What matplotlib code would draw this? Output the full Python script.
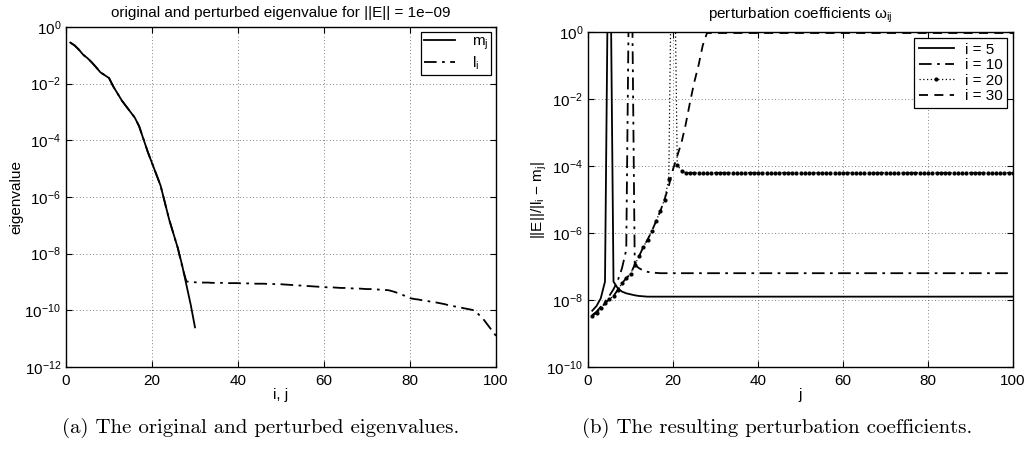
import numpy as np
import matplotlib
matplotlib.use("Agg")
import matplotlib.pyplot as plt
from matplotlib.ticker import LogLocator, LogFormatterMathtext, NullLocator

plt.rcParams['font.family'] = ['Liberation Sans', 'DejaVu Sans']
plt.rcParams['mathtext.default'] = 'regular'

# ---------------- data (log10 values) ----------------
j_m = list(range(1, 31))
m_log10 = [-0.55, -0.65, -0.80, -0.98, -1.10, -1.25, -1.42, -1.60, -1.70, -1.80,
           -2.10, -2.35, -2.60, -2.80, -3.00, -3.20, -3.50, -3.95, -4.40, -4.80,
           -5.20, -5.60, -6.20, -6.80, -7.30, -7.80, -8.40, -9.10, -9.80, -10.60]

i_l = list(range(1, 101))
l_log10 = [-0.55, -0.65, -0.80, -0.98, -1.10, -1.25, -1.42, -1.60, -1.70, -1.80,
           -2.10, -2.35, -2.60, -2.80, -3.00, -3.20, -3.50, -3.95, -4.40, -4.80,
           -5.20, -5.60, -6.20, -6.80, -7.30, -7.80, -8.45, -8.98, -9.00, -9.01,
           -9.02, -9.02, -9.02, -9.03, -9.03, -9.03, -9.03, -9.04, -9.04, -9.04,
           -9.05, -9.05, -9.05, -9.06, -9.06, -9.06, -9.07, -9.07, -9.08, -9.08,
           -9.09, -9.10, -9.11, -9.12, -9.13, -9.14, -9.15, -9.16, -9.17, -9.18,
           -9.19, -9.19, -9.20, -9.21, -9.21, -9.22, -9.23, -9.23, -9.24, -9.25,
           -9.25, -9.26, -9.27, -9.28, -9.29, -9.33, -9.38, -9.44, -9.50, -9.57,
           -9.60, -9.62, -9.65, -9.67, -9.70, -9.72, -9.75, -9.78, -9.82, -9.85,
           -9.88, -9.91, -9.94, -9.97, -10.00, -10.15, -10.30, -10.50, -10.70, -10.90]

j_w = list(range(1, 101))
w5_log10 = [-8.32, -8.18, -7.95, -7.45, 6.00, -7.45, -7.65, -7.75, -7.80, -7.83,
            -7.86, -7.88, -7.89, -7.90, -7.90, -7.90, -7.90, -7.90, -7.90, -7.90,
            -7.90, -7.90, -7.90, -7.90, -7.90, -7.90, -7.90, -7.90, -7.90, -7.90,
            -7.90, -7.90, -7.90, -7.90, -7.90, -7.90, -7.90, -7.90, -7.90, -7.90,
            -7.90, -7.90, -7.90, -7.90, -7.90, -7.90, -7.90, -7.90, -7.90, -7.90,
            -7.90, -7.90, -7.90, -7.90, -7.90, -7.90, -7.90, -7.90, -7.90, -7.90,
            -7.90, -7.90, -7.90, -7.90, -7.90, -7.90, -7.90, -7.90, -7.90, -7.90,
            -7.90, -7.90, -7.90, -7.90, -7.90, -7.90, -7.90, -7.90, -7.90, -7.90,
            -7.90, -7.90, -7.90, -7.90, -7.90, -7.90, -7.90, -7.90, -7.90, -7.90,
            -7.90, -7.90, -7.90, -7.90, -7.90, -7.90, -7.90, -7.90, -7.90, -7.90]
w10_log10 = [-8.45, -8.35, -8.20, -8.05, -7.88, -7.68, -7.42, -7.05, -6.50, 6.00,
             -6.95, -7.05, -7.12, -7.16, -7.18, -7.19, -7.20, -7.20, -7.20, -7.20,
             -7.20, -7.20, -7.20, -7.20, -7.20, -7.20, -7.20, -7.20, -7.20, -7.20,
             -7.20, -7.20, -7.20, -7.20, -7.20, -7.20, -7.20, -7.20, -7.20, -7.20,
             -7.20, -7.20, -7.20, -7.20, -7.20, -7.20, -7.20, -7.20, -7.20, -7.20,
             -7.20, -7.20, -7.20, -7.20, -7.20, -7.20, -7.20, -7.20, -7.20, -7.20,
             -7.20, -7.20, -7.20, -7.20, -7.20, -7.20, -7.20, -7.20, -7.20, -7.20,
             -7.20, -7.20, -7.20, -7.20, -7.20, -7.20, -7.20, -7.20, -7.20, -7.20,
             -7.20, -7.20, -7.20, -7.20, -7.20, -7.20, -7.20, -7.20, -7.20, -7.20,
             -7.20, -7.20, -7.20, -7.20, -7.20, -7.20, -7.20, -7.20, -7.20, -7.20]
w20_log10 = [-8.48, -8.38, -8.25, -8.10, -7.98, -7.88, -7.70, -7.50, -7.35, -7.22,
             -6.95, -6.70, -6.42, -6.20, -5.95, -5.65, -5.35, -5.00, -4.40, 6.00,
             -3.97, -4.14, -4.20, -4.20, -4.20, -4.20, -4.20, -4.20, -4.20, -4.20,
             -4.20, -4.20, -4.20, -4.20, -4.20, -4.20, -4.20, -4.20, -4.20, -4.20,
             -4.20, -4.20, -4.20, -4.20, -4.20, -4.20, -4.20, -4.20, -4.20, -4.20,
             -4.20, -4.20, -4.20, -4.20, -4.20, -4.20, -4.20, -4.20, -4.20, -4.20,
             -4.20, -4.20, -4.20, -4.20, -4.20, -4.20, -4.20, -4.20, -4.20, -4.20,
             -4.20, -4.20, -4.20, -4.20, -4.20, -4.20, -4.20, -4.20, -4.20, -4.20,
             -4.20, -4.20, -4.20, -4.20, -4.20, -4.20, -4.20, -4.20, -4.20, -4.20,
             -4.20, -4.20, -4.20, -4.20, -4.20, -4.20, -4.20, -4.20, -4.20, -4.20]
w30_log10 = [-8.48, -8.38, -8.25, -8.10, -7.98, -7.88, -7.70, -7.50, -7.35, -7.22,
             -6.95, -6.70, -6.42, -6.20, -5.95, -5.65, -5.35, -5.00, -4.60, -4.10,
             -3.70, -3.30, -2.75, -2.10, -1.50, -1.00, -0.40, -0.03, -0.03, -0.03,
             -0.03, -0.03, -0.03, -0.03, -0.03, -0.03, -0.03, -0.03, -0.03, -0.03,
             -0.03, -0.03, -0.03, -0.03, -0.03, -0.03, -0.03, -0.03, -0.03, -0.03,
             -0.03, -0.03, -0.03, -0.03, -0.03, -0.03, -0.03, -0.03, -0.03, -0.03,
             -0.03, -0.03, -0.03, -0.03, -0.03, -0.03, -0.03, -0.03, -0.03, -0.03,
             -0.03, -0.03, -0.03, -0.03, -0.03, -0.03, -0.03, -0.03, -0.03, -0.03,
             -0.03, -0.03, -0.03, -0.03, -0.03, -0.03, -0.03, -0.03, -0.03, -0.03,
             -0.03, -0.03, -0.03, -0.03, -0.03, -0.03, -0.03, -0.03, -0.03, -0.03]

x_ticks = [0, 20, 40, 60, 80, 100]
left_title = 'original and perturbed eigenvalue for ||E|| = 1e\u221209'
right_title = r'perturbation coefficients $\omega_{ij}$'
caption_a = '(a) The original and perturbed eigenvalues.'
caption_b = '(b) The resulting perturbation coefficients.'

# ---------------- figure ----------------
fig = plt.figure(figsize=(10.29, 4.5), dpi=100)
W, H = 1029.0, 450.0
ax1 = fig.add_axes([66 / W, 1 - 367 / H, 430 / W, 340 / H])
ax2 = fig.add_axes([588 / W, 1 - 367 / H, 425 / W, 335 / H])

lw = 1.3
dashdot = (0, (7, 3, 1.5, 3))
dashed = (0, (5, 3.5))
dotted = (0, (1, 2))
txt = 11


def style(ax, ymin_exp, title, pad):
    ax.set_yscale('log')
    ax.set_xlim(0, 100)
    ax.set_ylim(10.0 ** ymin_exp, 1.0)
    ax.set_xticks(x_ticks)
    ax.yaxis.set_major_locator(LogLocator(base=100.0, numticks=20))
    ax.yaxis.set_major_formatter(LogFormatterMathtext(base=10.0))
    ax.yaxis.set_minor_locator(NullLocator())
    ax.tick_params(direction='in', length=4, width=0.8, labelsize=txt, top=True, right=True)
    ax.tick_params(axis='x', pad=5)
    ax.grid(True, which='major', linestyle=(0, (1, 3)), color='0.35', linewidth=0.6)
    for s in ax.spines.values():
        s.set_linewidth(1.0)
        s.set_color('black')
    ax.set_title(title, fontsize=txt, pad=pad)


style(ax1, -12, left_title, 7)
ax1.plot(j_m, 10.0 ** np.array(m_log10), color='black', lw=lw, linestyle='-', label=r'm$_j$')
ax1.plot(i_l, 10.0 ** np.array(l_log10), color='black', lw=lw, linestyle=dashdot, label=r'l$_i$')
ax1.set_xlabel('i, j', fontsize=txt, labelpad=0)
ax1.set_ylabel('eigenvalue', fontsize=txt, labelpad=1)
leg1 = ax1.legend(loc='upper right', fontsize=txt, frameon=True, fancybox=False,
                  edgecolor='black', framealpha=1, handlelength=2.0, borderaxespad=0.3,
                  labelspacing=0.15, borderpad=0.2, handletextpad=1.1)
leg1.get_frame().set_linewidth(0.9)

style(ax2, -10, right_title, 10)
ax2.plot(j_w, 10.0 ** np.array(w5_log10), color='black', lw=lw, linestyle='-', label='i = 5')
ax2.plot(j_w, 10.0 ** np.array(w10_log10), color='black', lw=lw, linestyle=dashdot, label='i = 10')
ax2.plot(j_w, 10.0 ** np.array(w20_log10), color='black', lw=0.9, linestyle=dotted,
         marker='.', markersize=4, label='i = 20')
ax2.plot(j_w, 10.0 ** np.array(w30_log10), color='black', lw=lw, linestyle=dashed, label='i = 30')
ax2.set_xlabel('j', fontsize=txt, labelpad=0)
ax2.set_ylabel(r'||E||/|l$_i$ $-$ m$_j$|', fontsize=txt, labelpad=-2)
leg2 = ax2.legend(loc='upper right', fontsize=txt, frameon=True, fancybox=False,
                  edgecolor='black', framealpha=1, handlelength=2.3, borderaxespad=0.4,
                  labelspacing=0.1, borderpad=0.3, handletextpad=0.7, numpoints=1)
leg2.get_frame().set_linewidth(0.9)

fig.text(261 / W, 1 - 428 / H, caption_a, fontfamily='cmr10', fontsize=15, ha='center', va='center')
fig.text(777 / W, 1 - 428 / H, caption_b, fontfamily='cmr10', fontsize=15, ha='center', va='center')

fig.savefig('out.png', dpi=100)
